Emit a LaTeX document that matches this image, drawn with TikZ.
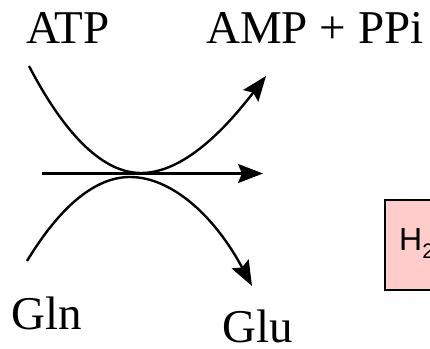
\documentclass[tikz,border=0pt]{standalone}
\usepackage{fontspec}
\setmainfont{Liberation Serif}
\newfontfamily\arialfont{Liberation Sans}
\usetikzlibrary{arrows.meta}
\tikzset{
  lbl/.style={font=\fontsize{47}{56}\selectfont, inner sep=0pt, anchor=base west},
  flow/.style={line width=2.4pt, -{Stealth[length=25pt,width=19pt,inset=4pt]}},
  pinkbox/.style={draw=black, line width=1.5pt, fill=red!20, minimum height=90pt, minimum width=80pt, anchor=north west, inner sep=0pt}
}
\begin{document}
\begin{tikzpicture}[x=1pt,y=-1pt]
\useasboundingbox (0,0) rectangle (430,348);
\node[lbl] (atp) at (26,43) {ATP};
\node[lbl] (amp) at (206,43) {AMP + PPi};
\node[lbl] (gln) at (11,329) {Gln};
\node[lbl] (glu) at (222,342) {Glu};
% top curve
\coordinate (ts) at (29,66);
\coordinate (tv) at (141,173);
\coordinate (te) at (266,76);
\draw[flow] (ts) .. controls (66,137) and (104,173) .. (tv) .. controls (184,173) and (226,128) .. (te);
% horizontal
\coordinate (hs) at (42,173.5);
\coordinate (he) at (263,173.5);
\draw[flow] (hs) -- (he);
% bottom curve
\coordinate (bs) at (27,261);
\coordinate (bv) at (130,177);
\coordinate (be) at (252,286);
\draw[flow] (bs) .. controls (61,205) and (96,177) .. (bv) .. controls (171,177) and (214,215) .. (be);
% pink box
\begin{scope}
\clip (0,0) rectangle (430,348);
\node[pinkbox] (h2o) at (384,199) {};
\node[font=\arialfont\fontsize{32}{38}\selectfont, inner sep=0pt, anchor=base west] (h2) at (399,250) {H\raisebox{-0.25em}{\fontsize{21}{25}\selectfont 2}};
\end{scope}
\end{tikzpicture}
\end{document}
